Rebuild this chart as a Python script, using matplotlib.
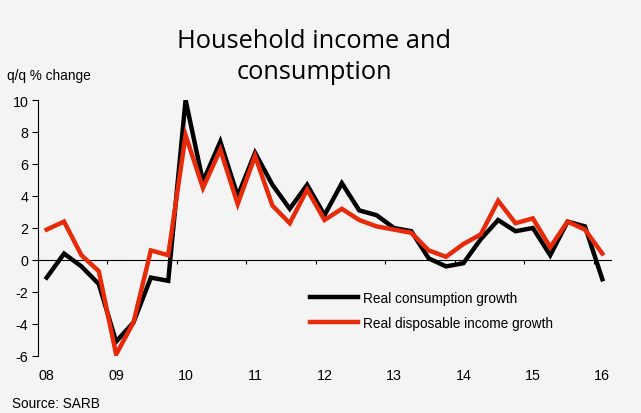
import matplotlib
matplotlib.use("Agg")
import matplotlib.pyplot as plt

# quarterly data, 2008Q1 - 2016Q1
consumption = [-1.1, 0.4, -0.4, -1.5, -5.1, -3.9, -1.1, -1.3,
               10.0, 4.9, 7.4, 4.0, 6.7, 4.7, 3.2, 4.7,
               2.8, 4.8, 3.1, 2.8, 2.0, 1.8, 0.1, -0.4,
               -0.2, 1.3, 2.5, 1.8, 2.0, 0.3, 2.4, 2.1,
               -1.2]
income = [1.9, 2.4, 0.3, -0.7, -5.9, -3.9, 0.6, 0.3,
          7.8, 4.5, 6.9, 3.5, 6.5, 3.4, 2.3, 4.4,
          2.5, 3.2, 2.5, 2.1, 1.9, 1.7, 0.6, 0.2,
          1.0, 1.6, 3.7, 2.3, 2.6, 0.8, 2.4, 1.9,
          0.4]
year_labels = ["08", "09", "10", "11", "12", "13", "14", "15", "16"]

bg = "#f4f4f4"
plt.rcParams["font.family"] = ["Liberation Sans", "DejaVu Sans"]
plt.rcParams["axes.unicode_minus"] = False

fig = plt.figure(figsize=(6.41, 4.14), dpi=100, facecolor=bg)
ax = fig.add_axes([38 / 641, 1 - 357 / 414, (611 - 38) / 641, (357 - 101) / 414])
ax.set_facecolor(bg)

x = list(range(len(consumption)))
ax.plot(x, consumption, color="black", lw=3.2, label="Real consumption growth",
        solid_joinstyle="miter")
ax.plot(x, income, color="#e62a0a", lw=3.2, label="Real disposable income growth",
        solid_joinstyle="miter")

ax.set_xlim(-0.5, len(x) - 0.5)
ax.set_ylim(-6, 10)
ax.set_yticks(range(-6, 11, 2))
ax.tick_params(axis="y", direction="out", length=4, width=0.8, labelsize=10.3, pad=3)

for s in ["top", "right", "bottom"]:
    ax.spines[s].set_visible(False)
ax.spines["left"].set_linewidth(0.8)

# year labels under the plot, no tick marks
ax.set_xticks(x[::4])
ax.set_xticklabels(year_labels)
ax.tick_params(axis="x", length=0, labelsize=10.3, pad=9)

# zero line with year-boundary ticks
zero = ax.secondary_xaxis(6 / 16)
zero.set_xticks([i + 3.5 for i in range(0, len(x) - 1, 4)])
zero.set_xticklabels([])
zero.tick_params(direction="out", length=3, width=0.8)
zero.spines["bottom"].set_linewidth(0.8)

fig.text(314 / 641, 1 - 57 / 414, "Household income and\nconsumption",
         ha="center", va="center", fontsize=18.3, family=["Open Sans", "DejaVu Sans"],
         linespacing=1.35)
fig.text(7 / 641, 1 - 76 / 414, "q/q % change", fontsize=9.8, va="center")
fig.text(12 / 641, 1 - 404 / 414, "Source: SARB", fontsize=9.8, va="center")

ax.legend(loc="upper left", bbox_to_anchor=(310 / 641, 1 - 292 / 414),
          bbox_transform=fig.transFigure, frameon=False, fontsize=9.8,
          handlelength=3.5, handletextpad=0.4, labelspacing=0.8,
          borderpad=0, borderaxespad=0)

fig.savefig("out.png", dpi=100, facecolor=bg)
